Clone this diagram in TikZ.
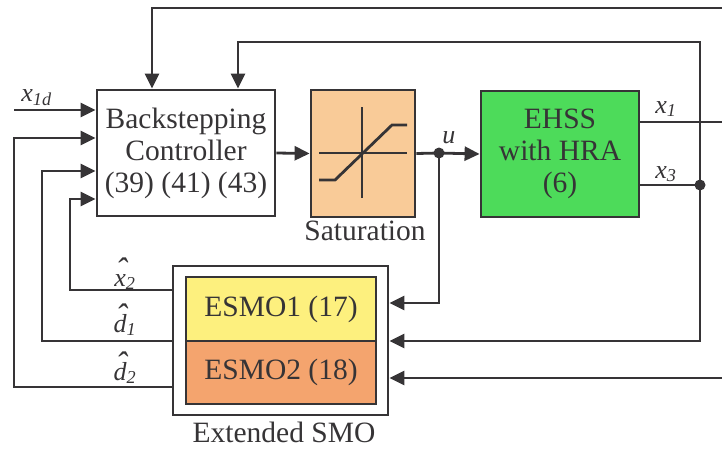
\documentclass[tikz,border=0pt]{standalone}
\usepackage{fontspec}
\setmainfont{Liberation Serif}
\usetikzlibrary{arrows.meta}
\definecolor{lc}{HTML}{363436}
\definecolor{satc}{HTML}{F9CB98}
\definecolor{ehc}{HTML}{4DDB5A}
\definecolor{e1c}{HTML}{FDF07E}
\definecolor{e2c}{HTML}{F4A46E}
\newcommand\hatit[1]{\ooalign{#1\cr\hidewidth\kern2pt\raisebox{5pt}{\fontsize{34}{34}\selectfont ˆ}\hidewidth\cr}}
\begin{document}
\begin{tikzpicture}[x=1pt,y=-1pt,line width=2.8pt,draw=lc,
  arr/.style={-{Triangle[length=15pt,width=14pt]}},
  box/.style={draw=lc,line width=2.8pt,inner sep=0pt,align=center,
    font=\fontsize{29.5}{32}\selectfont,text=lc},
  lbl/.style={font=\fontsize{26}{28}\selectfont,text=lc,inner sep=0pt},
  captext/.style={font=\fontsize{29.5}{32}\selectfont,text=lc,inner sep=0pt}]
\clip (0,0) rectangle (722,448);
% blocks
\node[box,fill=white,minimum width=178pt,minimum height=126pt] (ctrl) at (186,153) {Backstepping\\Controller\\(39) (41) (43)};
\node[box,fill=satc,minimum width=104pt,minimum height=127pt] (sat) at (363,153.5) {};
\node[captext,anchor=base] (satl) at (365,240) {Saturation};
\node[box,fill=ehc,minimum width=158pt,minimum height=126pt] (ehss) at (560,154) {EHSS\\with HRA\\(6)};
\node[box,minimum width=215pt,minimum height=149pt] (smo) at (280.5,340.5) {};
\node[box,fill=e1c,minimum width=190pt,minimum height=64pt] (e1) at (281,309) {ESMO1 (17)};
\node[box,fill=e2c,minimum width=190pt,minimum height=63pt] (e2) at (281,372.5) {ESMO2 (18)};
\node[captext,anchor=base] (smol) at (284,442) {Extended SMO};
% saturation symbol
\draw (362,107) -- (362,198);
\draw (319,153) -- (407,153);
\draw (319,180) -- (335,180) -- (392,125) -- (407,125);
% coordinates
\coordinate (u) at (439,153);
\coordinate (j3) at (700,185);
\coordinate (rt) at (700,42);
\coordinate (rtL) at (238,42);
\coordinate (rb) at (700,341);
\coordinate (topR) at (722,8);
\coordinate (topL) at (152,8);
\coordinate (x1e) at (737,122);
\coordinate (inR) at (722,378);
\coordinate (uD) at (439,303);
\coordinate (xin) at (14,110);
\coordinate (ia) at (14,138);
\coordinate (ib) at (42,171);
\coordinate (ic) at (70,199);
\coordinate (x2L) at (70,290);
\coordinate (d1L) at (42,341);
\coordinate (d2L) at (14,387);
% connectors
\draw[arr] (topR) -- (topL) -- (topL |- ctrl.north);
\draw[arr] (j3) -- (rt) -- (rtL) -- (rtL |- ctrl.north);
\draw[arr] (j3) -- (rb) -- (rb -| smo.east);
\draw (ehss.east |- j3) -- (j3);
\draw[arr] (ehss.east |- x1e) -- (x1e);
\draw[arr] (inR) -- (inR -| smo.east);
\draw (sat.east) -- (u);
\draw[arr] (u) -- (ehss.west);
\draw[arr] (u) -- (uD) -- (uD -| smo.east);
\draw[arr] (ctrl.east) -- (sat.west);
\draw[arr] (xin) -- (xin -| ctrl.west);
\draw[arr] (smo.west |- d2L) -- (d2L) -- (ia) -- (ia -| ctrl.west);
\draw[arr] (smo.west |- d1L) -- (d1L) -- (ib) -- (ib -| ctrl.west);
\draw[arr] (smo.west |- x2L) -- (x2L) -- (ic) -- (ic -| ctrl.west);
\fill[lc] (u) circle (5.5);
\fill[lc] (j3) circle (5.5);
% labels
\node[lbl,anchor=base west] (lx1d) at (20,101) {\textit{x}\textsubscript{\textit{1d}}};
\node[lbl,anchor=base west] (lx1) at (654,113) {\textit{x}\textsubscript{\textit{1}}};
\node[lbl,anchor=base west] (lx3) at (654,178) {\textit{x}\textsubscript{\textit{3}}};
\node[lbl,anchor=base west] (lu) at (441,143) {\textit{u}};
\node[lbl,anchor=base] (lx2) at (125,286) {\textit{\hatit{x}}\textsubscript{\textit{2}}};
\node[lbl,anchor=base] (ld1) at (125,332) {\textit{\hatit{d}}\textsubscript{\textit{1}}};
\node[lbl,anchor=base] (ld2) at (125,380) {\textit{\hatit{d}}\textsubscript{\textit{2}}};
\end{tikzpicture}
\end{document}
